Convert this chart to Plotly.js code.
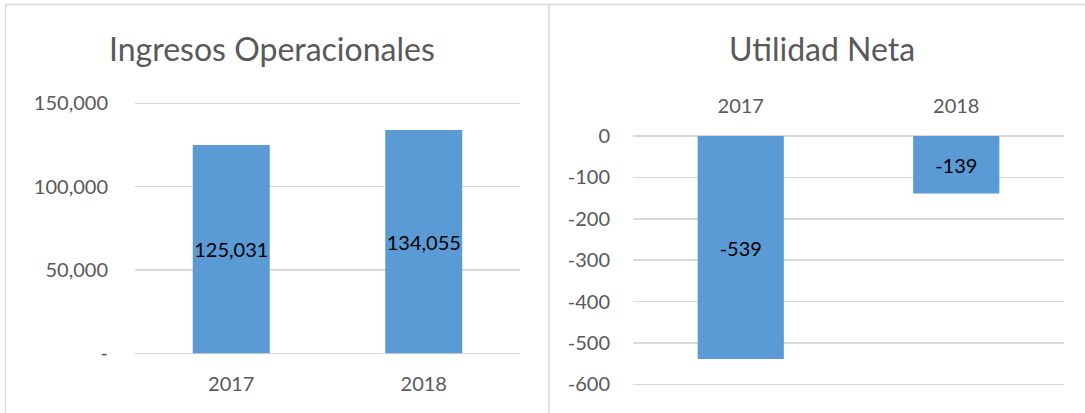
<!DOCTYPE html>
<html>
<head>
<meta charset="utf-8">
<script src="https://cdn.plot.ly/plotly-3.0.1.min.js"></script>
<style>html,body{margin:0;padding:0;background:#fff;}#chart{width:1085px;height:413px;}</style>
</head>
<body>
<div id="chart"></div>
<script>
const years = ["2017", "2018"];
const ingresos = [125031, 134055];
const utilidad = [-539, -139];
const ingresosLabels = ["125,031", "134,055"];
const utilidadLabels = ["-539", "-139"];
const leftTickVals = [0, 50000, 100000, 150000];
const leftTickText = ["-", "50,000", "100,000", "150,000"];
const rightTickVals = [0, -100, -200, -300, -400, -500, -600];
const rightTickText = ["0", "-100", "-200", "-300", "-400", "-500", "-600"];

const W = 1085, H = 413;
const px = x => x / W;
const py = y => 1 - y / H;

const FONT = "Lato, 'Open Sans', sans-serif";
const GRAY = "#595959";
const GRID = "#D9D9D9";
const BAR = "#5B9BD5";

const traces = [
  {
    type: "bar", x: years, y: ingresos, text: ingresosLabels,
    textposition: "inside", insidetextanchor: "middle", constraintext: "none",
    textangle: 0,
    textfont: {family: FONT, size: 20, color: "#000000"},
    marker: {color: BAR}, xaxis: "x", yaxis: "y", hoverinfo: "none"
  },
  {
    type: "bar", x: years, y: utilidad, text: utilidadLabels,
    textposition: "inside", insidetextanchor: "middle", constraintext: "none",
    textangle: 0,
    textfont: {family: FONT, size: 20, color: "#000000"},
    marker: {color: BAR}, xaxis: "x2", yaxis: "y2", hoverinfo: "none"
  }
];

// padding of 3px (in data units) so the edge gridlines are drawn
const PADPX = 3;
const padL = 600 * PADPX;       // 150000 / 250px
const padR = 2.415 * PADPX;     // 600 / 248.3px

const layout = {
  width: W, height: H,
  margin: {l: 0, r: 0, t: 0, b: 0},
  paper_bgcolor: "#ffffff", plot_bgcolor: "#ffffff",
  showlegend: false,
  bargap: 0.6,
  font: {family: FONT, color: GRAY},
  xaxis: {
    type: "category",
    domain: [px(135), px(520)], anchor: "y",
    showgrid: false, zeroline: false, showline: false,
    ticks: "", ticklabelstandoff: 14,
    tickfont: {family: FONT, size: 20, color: GRAY}, fixedrange: true
  },
  yaxis: {
    domain: [py(353.3 + PADPX), py(103.3 - PADPX)], anchor: "x",
    range: [0 - padL, 150000 + padL], tickvals: leftTickVals, ticktext: leftTickText,
    showgrid: true, gridcolor: GRID, gridwidth: 1.5,
    zeroline: false, showline: false, ticks: "", ticklabelstandoff: 26,
    tickfont: {family: FONT, size: 20, color: GRAY}, fixedrange: true
  },
  xaxis2: {
    type: "category",
    domain: [px(633), px(1064)], anchor: "y2", side: "top",
    showgrid: false, zeroline: false, showline: false,
    ticks: "", ticklabelstandoff: 15,
    tickfont: {family: FONT, size: 20, color: GRAY}, fixedrange: true
  },
  yaxis2: {
    domain: [py(384.3 + PADPX), py(136 - PADPX)], anchor: "x2",
    range: [-600 - padR, 0 + padR], tickvals: rightTickVals, ticktext: rightTickText,
    showgrid: true, gridcolor: GRID, gridwidth: 1.5,
    zeroline: false, showline: false, ticks: "", ticklabelstandoff: 22,
    tickfont: {family: FONT, size: 20, color: GRAY}, fixedrange: true
  },
  annotations: [
    {text: "Ingresos Operacionales", xref: "paper", yref: "paper",
     x: px(272), y: py(48), xanchor: "center", yanchor: "middle", showarrow: false,
     font: {family: FONT, size: 32, color: GRAY}},
    {text: "Utilidad Neta", xref: "paper", yref: "paper",
     x: px(822), y: py(48), xanchor: "center", yanchor: "middle", showarrow: false,
     font: {family: FONT, size: 32, color: GRAY}}
  ],
  shapes: [
    {type: "line", xref: "paper", yref: "paper", x0: px(5), x1: 1, y0: py(4.5), y1: py(4.5),
     line: {color: GRID, width: 1.5}},
    {type: "line", xref: "paper", yref: "paper", x0: px(5.5), x1: px(5.5), y0: 0, y1: py(4.5),
     line: {color: GRID, width: 1.5}},
    {type: "line", xref: "paper", yref: "paper", x0: px(549), x1: px(549), y0: 0, y1: py(4.5),
     line: {color: GRID, width: 1.5}}
  ]
};

Plotly.newPlot("chart", traces, layout, {displayModeBar: false, staticPlot: true});
</script>
</body>
</html>
